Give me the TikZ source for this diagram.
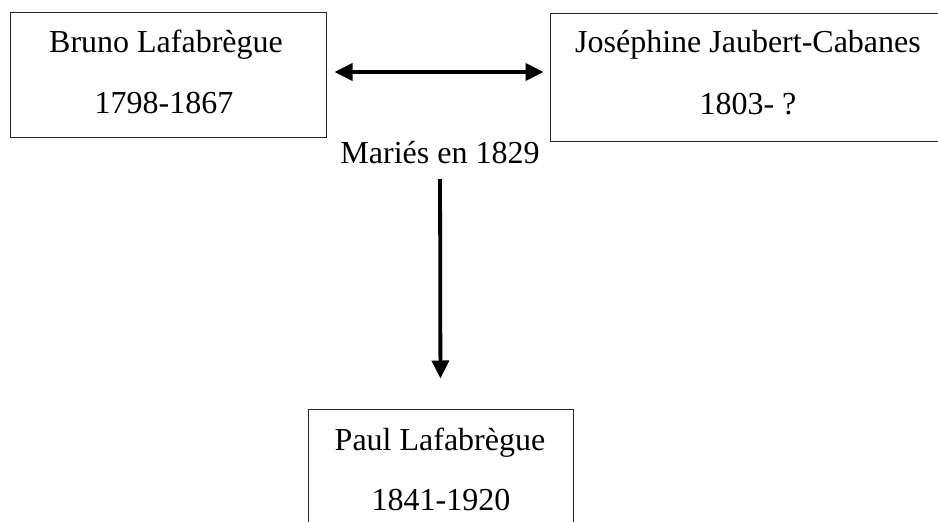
\documentclass[tikz,border=0pt]{standalone}
\usepackage{fontspec}
\setmainfont{Liberation Serif}
\usetikzlibrary{arrows.meta}
\begin{document}
\begin{tikzpicture}[x=1pt,y=-1pt,
  box/.style={draw=black!85,line width=1pt,rectangle,inner sep=0pt,anchor=center},
  txt/.style={inner sep=0pt,anchor=base,font=\fontsize{32}{38}\selectfont},
  conn/.style={line width=3.8pt,black,-{Triangle[length=18pt,width=17pt]}}
]
\path[use as bounding box,clip] (0,0) rectangle (938,522);
\fill[white] (0,0) rectangle (938,522);
% boxes
\node[box,minimum width=316pt,minimum height=125pt] (bruno) at (168,74.5) {};
\node[box,minimum width=396pt,minimum height=128pt] (jose) at (748,77) {};
\node[box,minimum width=265pt,minimum height=130pt] (paul) at (440.5,474) {};
% texts
\node[txt] (bruno1) at (166,52) {Bruno Lafabrègue};
\node[txt] (bruno2) at (164,113) {1798-1867};
\node[txt] (jose1) at (748,52) {Joséphine Jaubert-Cabanes};
\node[txt] (jose2) at (748,114) {1803- ?};
\node[txt] (paul1) at (440,450) {Paul Lafabrègue};
\node[txt] (paul2) at (441,510) {1841-1920};
\node[txt] (mar) at (440,163) {Mariés en 1829};
% connectors
\draw[conn,{Triangle[length=18pt,width=17pt]}-{Triangle[length=18pt,width=17pt]},shorten <=8pt,shorten >=6pt] (bruno.east |- 0,72) -- (jose.west |- 0,72);
\draw[conn,shorten <=16pt,shorten >=30pt] (mar.base) -- (paul.north);
\end{tikzpicture}
\end{document}
